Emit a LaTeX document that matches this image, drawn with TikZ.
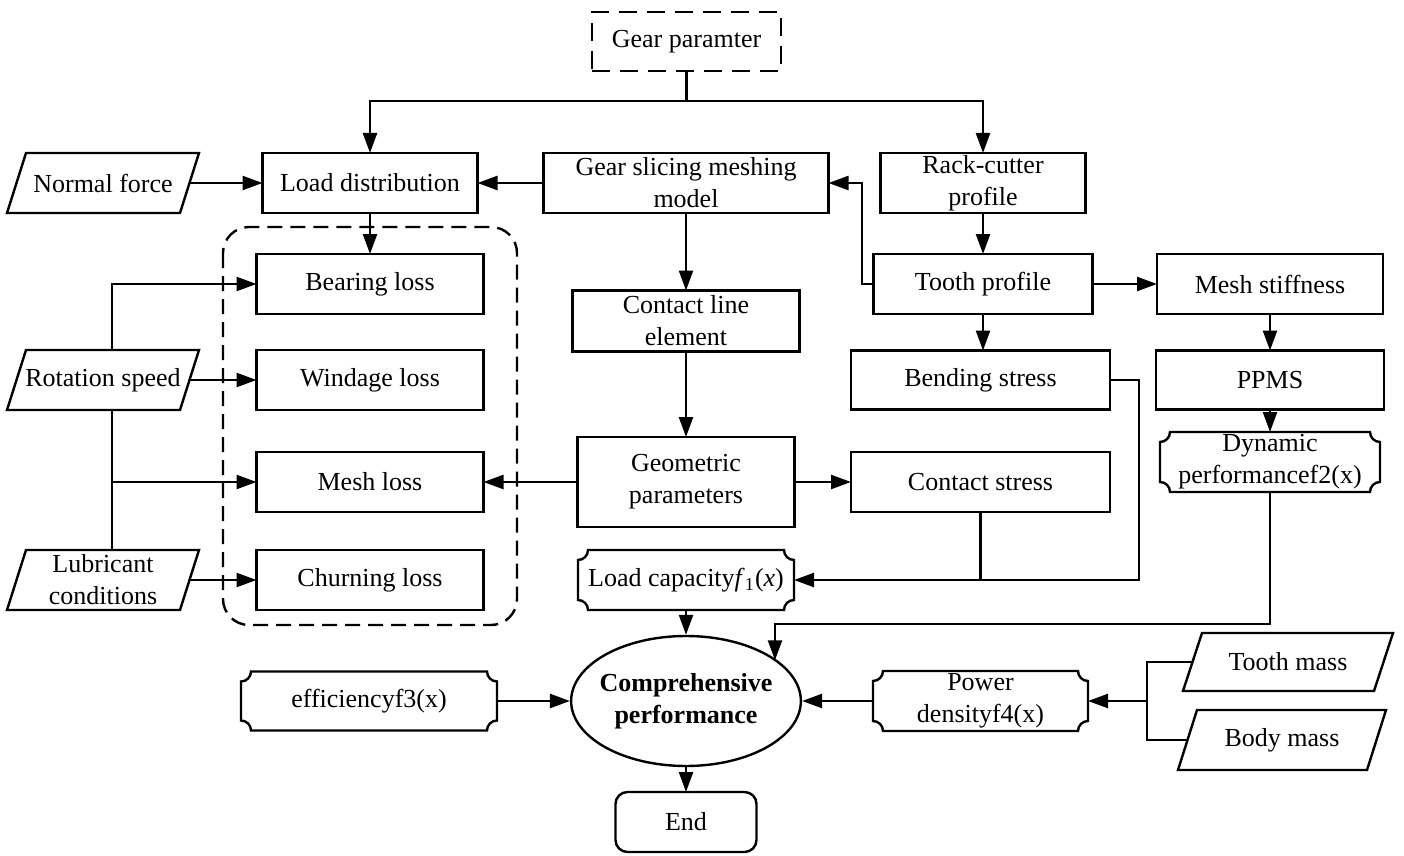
\documentclass[tikz,border=0pt]{standalone}
\usepackage{fontspec}
\setmainfont{Liberation Serif}
\usetikzlibrary{arrows.meta,shapes.geometric}

\begin{document}
\begin{tikzpicture}[x=0.5pt,y=-0.5pt,line width=1.2pt,
  every node/.style={font=\fontsize{13}{16}\selectfont},
  >={Triangle[length=10pt,width=7pt]},
  box/.style={draw,rectangle,align=center,minimum height=30pt,inner sep=1pt,outer sep=0pt},
  dashbox/.style={box,dash pattern=on 9pt off 5pt},
  notch/.style={box,draw=none,append after command={\pgfextra{
    \draw[x=1pt,y=1pt,solid] ([xshift=5pt]\tikzlastnode.north west) -- ([xshift=-5pt]\tikzlastnode.north east)
      arc[start angle=180,end angle=270,radius=5]
      -- ([yshift=5pt]\tikzlastnode.south east)
      arc[start angle=90,end angle=180,radius=5]
      -- ([xshift=5pt]\tikzlastnode.south west)
      arc[start angle=0,end angle=90,radius=5]
      -- ([yshift=-5pt]\tikzlastnode.north west)
      arc[start angle=270,end angle=360,radius=5] -- cycle;}}},
  slant/.style={box,draw=none,append after command={\pgfextra{
    \draw[solid] ([xshift=-4.75pt]\tikzlastnode.south west) -- ([xshift=-4.75pt]\tikzlastnode.south east)
      -- ([xshift=4.75pt]\tikzlastnode.north east) -- ([xshift=4.75pt]\tikzlastnode.north west) -- cycle;}}}]
\useasboundingbox (0,0) rectangle (1404,856);

% top row
\node (gear) [dashbox,minimum width=94.5pt,minimum height=29.5pt] at (686.5,41.5) {Gear paramter};
\node (normal) [slant,minimum width=86.5pt] at (103,183) {Normal force};
\node (loaddist) [box,minimum width=107.5pt] at (370,183) {Load distribution};
\node (slicing) [box,minimum width=142.5pt] at (686,183) {Gear slicing meshing\\model};
\node (rack) [box,minimum width=102.5pt] at (983,183) {Rack-cutter\\profile};

% losses
\draw[dash pattern=on 7.5pt off 4pt,rounded corners=13pt] (223,227) rectangle (517,625);
\node (bearing) [box,minimum width=113.5pt] at (370,284) {Bearing loss};
\node (windage) [box,minimum width=113.5pt] at (370,380) {Windage loss};
\node (meshloss) [box,minimum width=113.5pt] at (370,482) {Mesh loss};
\node (churning) [box,minimum width=113.5pt] at (370,580) {Churning loss};
\node (rotation) [slant,minimum width=86.5pt] at (103,380) {Rotation speed};
\node (lubricant) [slant,minimum width=86.5pt] at (103,580) {Lubricant\\conditions};

% middle column
\node (contactline) [box,minimum width=113.5pt,minimum height=30.5pt] at (686,321) {Contact line\\element};
\node (geometric) [box,minimum width=108.5pt,minimum height=45pt] at (686,482) {Geometric\\parameters};
\node (loadcap) [notch,minimum width=108pt] at (686,580) {Load capacity\textit{f}\textsubscript{1}(\textit{x})};

% right side
\node (tooth) [box,minimum width=109.5pt] at (983,284) {Tooth profile};
\node (meshstiff) [box,minimum width=113pt] at (1270,284) {Mesh stiffness};
\node (bending) [box,minimum width=129.5pt,minimum height=29.5pt] at (980.5,380) {Bending stress};
\node (contact) [box,minimum width=129.5pt] at (980.5,482) {Contact stress};
\node (ppms) [box,minimum width=114pt,minimum height=29.5pt] at (1270,380) {PPMS};
\node (dynamic) [notch,minimum width=110pt] at (1270,462) {Dynamic\\performancef2(x)};

% bottom
\node (compre) [draw,ellipse,minimum height=65pt,inner xsep=-2.6pt,inner ysep=0pt,align=center,
  font=\fontsize{13}{16}\selectfont\bfseries] at (686,701) {Comprehensive\\performance};
\node (finish) [box,rounded corners=6pt,minimum width=70.5pt] at (686,822) {End};
\node (eff) [notch,minimum width=128pt,minimum height=29.5pt] at (369,701) {efficiencyf3(x)};
\node (power) [notch,minimum width=107.5pt] at (980.5,701) {Power\\densityf4(x)};
\node (toothmass) [slant,minimum width=95.5pt,minimum height=29pt] at (1288,662) {Tooth mass};
\node (bodymass) [slant,minimum width=94.5pt] at (1282,740) {Body mass};

\coordinate (gearbus) at (686.5,101);
\coordinate (toothbend) at (862,183);
\coordinate (speedbus) at (112,482);
\coordinate (capbend) at (1139,580);
\coordinate (dynbend) at (775,624);
\coordinate (massjoin) at (1147,701);

\draw (gear.south) -- (gearbus);
\draw[->] (gearbus) -| (loaddist.north);
\draw[->] (gearbus) -| (rack.north);
\draw[->] (normal.east) -- (loaddist.west);
\draw[->] (slicing.west) -- (loaddist.east);
\draw[->] (tooth.west) -| (toothbend) -- (slicing.east);
\draw[->] (rack.south) -- (tooth.north);
\draw[->] (loaddist.south) -- (bearing.north);

\draw[->] (rotation.north -| speedbus) |- (bearing.west);
\draw (rotation.south -| speedbus) -- (lubricant.north -| speedbus);
\draw[->] (speedbus) -- (meshloss.west);
\draw[->] (rotation.east) -- (windage.west);
\draw[->] (lubricant.east) -- (churning.west);

\draw[->] (slicing.south) -- (contactline.north);
\draw[->] (contactline.south) -- (geometric.north);
\draw[->] (geometric.west) -- (meshloss.east);
\draw[->] (geometric.east) -- (contact.west);

\draw[->] (tooth.east) -- (meshstiff.west);
\draw[->] (tooth.south) -- (tooth.south |- bending.north);
\draw[->] (meshstiff.south) -- (ppms.north);
\draw[->] (ppms.south) -- (dynamic.north);
\draw[->] (bending.east) -| (capbend) -- (loadcap.east);
\draw (contact.south) -- (contact.south |- capbend);
\draw[->] (dynamic.south) |- (dynbend) -- (dynbend |- compre.24);

\draw[->] (loadcap.south) -- (compre.north);
\draw[->] (compre.south) -- (finish.north);
\draw[->] (eff.east) -- (compre.west);
\draw[->] (power.west) -- (compre.east);
\draw (toothmass.west) -| (massjoin) |- (bodymass.west);
\draw[->] (massjoin) -- (power.east);
\end{tikzpicture}
\end{document}
